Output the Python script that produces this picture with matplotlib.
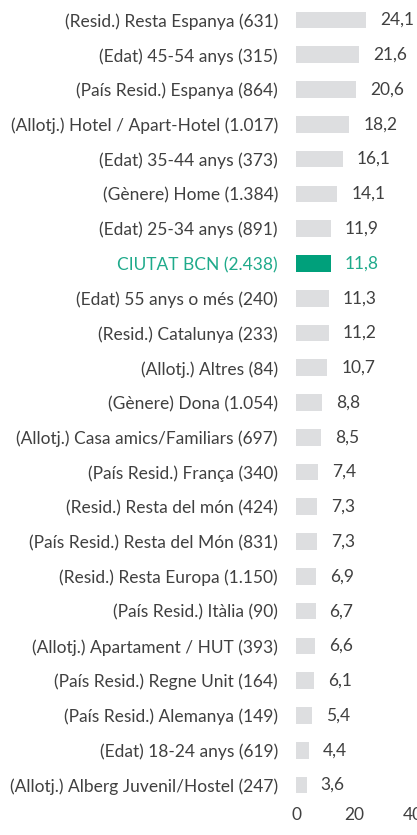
import matplotlib
matplotlib.use("Agg")
import matplotlib.pyplot as plt

categories = [
    "(Resid.) Resta Espanya (631)",
    "(Edat) 45-54 anys (315)",
    "(País Resid.) Espanya (864)",
    "(Allotj.) Hotel / Apart-Hotel (1.017)",
    "(Edat) 35-44 anys (373)",
    "(Gènere) Home (1.384)",
    "(Edat) 25-34 anys (891)",
    "CIUTAT BCN (2.438)",
    "(Edat) 55 anys o més (240)",
    "(Resid.) Catalunya (233)",
    "(Allotj.) Altres (84)",
    "(Gènere) Dona (1.054)",
    "(Allotj.) Casa amics/Familiars (697)",
    "(País Resid.) França (340)",
    "(Resid.) Resta del món (424)",
    "(País Resid.) Resta del Món (831)",
    "(Resid.) Resta Europa (1.150)",
    "(País Resid.) Itàlia (90)",
    "(Allotj.) Apartament / HUT (393)",
    "(País Resid.) Regne Unit (164)",
    "(País Resid.) Alemanya (149)",
    "(Edat) 18-24 anys (619)",
    "(Allotj.) Alberg Juvenil/Hostel (247)",
]
values = [24.1, 21.6, 20.6, 18.2, 16.1, 14.1, 11.9, 11.8, 11.3, 11.2, 10.7, 8.8,
          8.5, 7.4, 7.3, 7.3, 6.9, 6.7, 6.6, 6.1, 5.4, 4.4, 3.6]
highlight = "CIUTAT BCN (2.438)"
xticks = [0, 20, 40]

plt.rcParams['font.family'] = ['Lato', 'DejaVu Sans']
W, H = 417, 835
fig = plt.figure(figsize=(W/100, H/100), dpi=100)
left = 296 / W
right = 413 / W
top = 1 - 2.6 / H
bottom = 1 - 802.4 / H
ax = fig.add_axes([left, bottom, right - left, top - bottom])

gray = "#DDDEE0"
green_bar = "#00A07B"
green_txt = "#1FAA8B"
txt = "#404040"
fs = 12.5

ypos = list(range(len(categories)))
colors = [green_bar if c == highlight else gray for c in categories]
ax.barh(ypos, values, height=0.48, color=colors)
ax.set_ylim(len(categories) - 0.5, -0.5)
ax.set_xlim(0, 40)
ax.set_yticks(ypos)
ax.set_yticklabels(categories, fontsize=fs)
ax.set_xticks(xticks)
ax.set_xticklabels([str(t) for t in xticks], fontsize=fs, color=txt)
ax.tick_params(axis='both', length=0)
ax.tick_params(axis='y', pad=13)
ax.tick_params(axis='x', pad=3)
for lab, c in zip(ax.get_yticklabels(), categories):
    lab.set_color(green_txt if c == highlight else txt)

for y, v, c in zip(ypos, values, categories):
    ax.annotate(f"{v:.1f}".replace(".", ","), (v, y), xytext=(14, 0),
                textcoords="offset pixels", va="center", ha="left", fontsize=fs,
                color=green_txt if c == highlight else txt)

for s in ax.spines.values():
    s.set_visible(False)

fig.savefig("out.png", dpi=100)
